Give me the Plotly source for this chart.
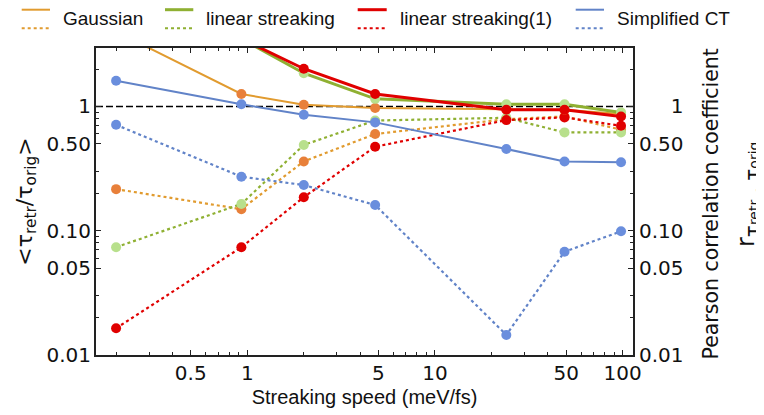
import plotly.graph_objects as go

# ---------------- data ----------------
speed = [0.2, 0.93, 2.0, 4.8, 24, 49, 98]

gauss_ratio = [4.0, 1.26, 1.03, 0.97, 0.95, 0.94, 0.87]
gauss_corr = [0.216, 0.149, 0.361, 0.60, 0.79, 0.83, 0.65]

lin_ratio = [12.0, 3.5, 1.85, 1.15, 1.04, 1.04, 0.895]
lin_corr = [0.0736, 0.164, 0.49, 0.77, 0.81, 0.618, 0.618]

lin1_ratio = [12.0, 3.5, 2.01, 1.26, 0.94, 0.94, 0.83]
lin1_corr = [0.0164, 0.0736, 0.186, 0.474, 0.776, 0.816, 0.698]

ct_ratio = [1.61, 1.04, 0.856, 0.744, 0.454, 0.361, 0.355]
ct_corr = [0.711, 0.272, 0.233, 0.161, 0.0145, 0.0678, 0.0989]

series_names = ["Gaussian", "linear streaking", "linear streaking(1)", "Simplified CT"]

x_tickvals = [0.5, 1, 5, 10, 50, 100]
x_ticktext = ["0.5", "1", "5", "10", "50", "100"]
x_minor = [0.2, 0.3, 0.4, 0.6, 0.7, 0.8, 0.9, 2, 3, 4, 6, 7, 8, 9,
           20, 30, 40, 60, 70, 80, 90]

y_tickvals = [0.01, 0.05, 0.1, 0.5, 1]
y_ticktext = ["0.01", "0.05", "0.10", "0.50", "1"]
y_minor = [0.02, 0.03, 0.06, 0.07, 0.08, 0.09, 0.2, 0.3, 0.6, 0.7, 0.8, 0.9, 2, 3]

# ---------------- styling ----------------
OFF = 8                      # the page body adds an 8px margin
W, H = 764 - OFF, 415 - OFF
L, R, T, B = 96, 633, 48, 355   # plot frame in window pixels

def px(x):
    return (x - L) / (R - L)

def py(y):
    return (B - y) / (B - T)

line_cols = ["#E19B2F", "#8FB032", "#E00000", "#6183C8"]
mark_cols = ["#E8803A", "#B8E08C", "#E00000", "#6A8EDD"]
solid_w = [2, 3, 3, 2]

ratios = [gauss_ratio, lin_ratio, lin1_ratio, ct_ratio]
corrs = [gauss_corr, lin_corr, lin1_corr, ct_corr]

fig = go.Figure()

# dotted (correlation) curves first
for name, vals, lc, mc in zip(series_names, corrs, line_cols, mark_cols):
    fig.add_trace(go.Scatter(
        x=speed, y=vals, mode="lines+markers", name=name + " (corr)",
        line=dict(color=lc, width=2.2, dash="3px,3px"),
        marker=dict(color=mc, size=10, line=dict(width=0)),
        showlegend=False))

# solid (ratio) curves
for name, vals, lc, mc, w in zip(series_names, ratios, line_cols, mark_cols, solid_w):
    fig.add_trace(go.Scatter(
        x=speed, y=vals, mode="lines+markers", name=name,
        line=dict(color=lc, width=w),
        marker=dict(color=mc, size=10, line=dict(width=0)),
        showlegend=False))

# reference line at 1
fig.add_shape(type="line", xref="paper", x0=0, x1=1, yref="y", y0=1, y1=1,
              line=dict(color="black", width=1.5, dash="7px,3px"), layer="below")

# manual legend (solid over dotted sample)
legend_sample_x = [(21.7, 50), (165, 193.3), (357.7, 386.7), (575.7, 604)]
legend_text_x = [61, 204, 398.3, 615]
for (x0, x1), tx, name, lc, w in zip(legend_sample_x, legend_text_x, series_names,
                                     line_cols, solid_w):
    fig.add_shape(type="line", xref="paper", yref="paper",
                  x0=px(x0), x1=px(x1), y0=py(9.7), y1=py(9.7),
                  line=dict(color=lc, width=w))
    fig.add_shape(type="line", xref="paper", yref="paper",
                  x0=px(x0), x1=px(x1), y0=py(28.3), y1=py(28.3),
                  line=dict(color=lc, width=2, dash="3px,3px"))
    fig.add_annotation(xref="paper", yref="paper", x=px(tx), y=py(18.8),
                       xanchor="left", yanchor="middle", showarrow=False,
                       text=name, font=dict(family="Liberation Sans", size=19, color="#111"))

# right-hand titles
fig.add_annotation(xref="paper", yref="paper", x=px(710), y=py(204.5),
                   xanchor="center", yanchor="middle", showarrow=False, textangle=-90,
                   text="Pearson correlation coefficient",
                   font=dict(family="DejaVu Sans", size=20.5, color="#111"))
r_label = ("r<sub><span style='font-size:20px'>τ</span>"
           "<span style='font-size:14px'>retr</span>"
           "<span style='font-size:20px'> , τ</span>"
           "<span style='font-size:14px'>orig</span></sub>")
fig.add_annotation(xref="paper", yref="paper", x=px(748), y=py(195),
                   xanchor="center", yanchor="middle", showarrow=False, textangle=-90,
                   text=r_label,
                   font=dict(family="DejaVu Sans", size=24, color="#111"))

tickfont = dict(family="DejaVu Sans", size=20, color="#111")
axcol = "#222"
yrange = [-2.0, 0.47]

fig.update_layout(
    width=W, height=H,
    margin=dict(l=L - OFF, r=W - (R - OFF), t=T - OFF, b=H - (B - OFF), pad=0),
    paper_bgcolor="white", plot_bgcolor="white",
    showlegend=False,
    xaxis=dict(
        type="log", range=[-0.806, 2.055], showgrid=False, zeroline=False,
        showline=True, linecolor=axcol, linewidth=2, mirror="ticks",
        ticks="inside", ticklen=5, tickwidth=1.3, tickcolor=axcol,
        tickvals=x_tickvals, ticktext=x_ticktext, tickfont=tickfont,
        ticklabelstandoff=-1,
        minor=dict(tickvals=x_minor, ticks="inside", ticklen=3, tickwidth=1.2,
                   tickcolor=axcol, showgrid=False),
        title=dict(text="Streaking speed (meV/fs)", standoff=6,
                   font=dict(family="Liberation Sans", size=20, color="#111")),
        automargin=False),
    yaxis=dict(
        type="log", range=yrange, showgrid=False, zeroline=False,
        showline=True, linecolor=axcol, linewidth=2, mirror="ticks",
        ticks="inside", ticklen=5, tickwidth=1.3, tickcolor=axcol,
        tickvals=y_tickvals, ticktext=y_ticktext, tickfont=tickfont,
        ticklabelstandoff=-1,
        minor=dict(tickvals=y_minor, ticks="inside", ticklen=3, tickwidth=1.2,
                   tickcolor=axcol, showgrid=False),
        title=dict(text="&lt;τ<sub>retr</sub>/τ<sub>orig</sub>&gt;", standoff=8,
                   font=dict(family="DejaVu Sans", size=22, color="#111")),
        automargin=False),
    yaxis2=dict(
        type="log", range=yrange, overlaying="y", side="right",
        showgrid=False, zeroline=False, showline=False, ticks="",
        tickvals=y_tickvals,
        ticktext=["0.01", "0.05", "0.10", "0.50", "\u2007\u2007\u20081"],
        tickfont=tickfont, ticklabelstandoff=5, automargin=False),
)

# invisible helper trace so the right axis is rendered
fig.add_trace(go.Scatter(x=[speed[0]], y=[ct_ratio[0]], yaxis="y2", mode="markers",
                         marker=dict(opacity=0), hoverinfo="skip", showlegend=False))

fig.write_html("out.html")
